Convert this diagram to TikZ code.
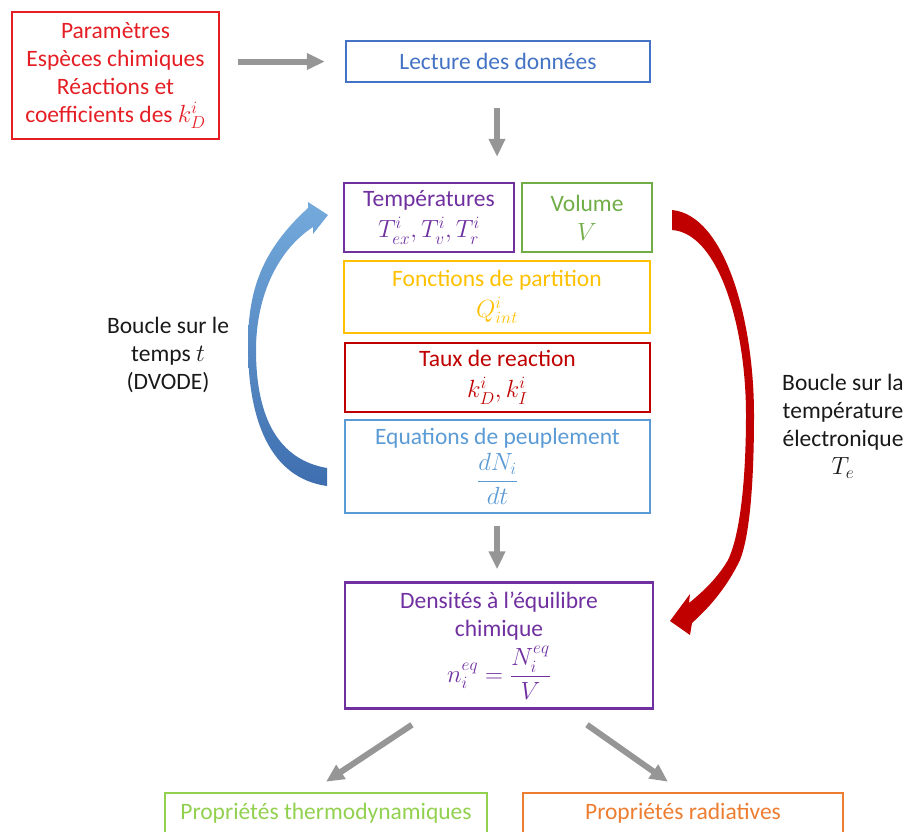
\documentclass[tikz,border=0pt]{standalone}
\usepackage{amsmath}
\usepackage{fontspec}
\setmainfont{Carlito}
\usetikzlibrary{arrows.meta}
\definecolor{paramred}{RGB}{228,30,36}
\definecolor{readblue}{RGB}{68,114,196}
\definecolor{tpurple}{RGB}{112,48,160}
\definecolor{volgreen}{RGB}{112,173,71}
\definecolor{partyellow}{RGB}{255,192,0}
\definecolor{ratered}{RGB}{192,0,0}
\definecolor{popblue}{RGB}{91,155,213}
\definecolor{thermgreen}{RGB}{146,208,80}
\definecolor{radorange}{RGB}{237,125,49}
\definecolor{arrowgray}{RGB}{150,150,150}
\definecolor{labelgray}{RGB}{25,25,25}

\begin{document}
\begin{tikzpicture}[x=1pt, y=-1pt, font=\fontsize{23.5}{28}\selectfont,
  box/.style={draw, line width=2.5pt, inner sep=0pt, align=center},
  grayarrow/.style={color=arrowgray, line width=6pt, -{Triangle[length=18pt,width=16pt]}}]
\useasboundingbox (0,0) rectangle (908,831);
\node[box, paramred, minimum width=207pt, minimum height=127pt] (param) at (115.5,75.5) {Paramètres\\Espèces chimiques\\Réactions et\\coefficients des $k_D^i$};
\node[box, readblue, minimum width=304pt, minimum height=41pt] (lecture) at (498,61.5) {Lecture des données};
\node[box, tpurple, minimum width=170pt, minimum height=69pt] (temps) at (429,217.5) {Températures\\[3pt]$T_{ex}^i, T_v^i, T_r^i$};
\node[box, volgreen, minimum width=130pt, minimum height=69pt] (volume) at (587,217.5) {Volume\\[1pt]$V$};
\node[box, partyellow, minimum width=306pt, minimum height=72pt] (partition) at (497,297) {Fonctions de partition\\[3pt]$Q_{int}^i$};
\node[box, ratered, minimum width=305pt, minimum height=69pt] (taux) at (497.5,377.5) {Taux de reaction\\[3pt]$k_D^i, k_I^i$};
\node[box, popblue, minimum width=305pt, minimum height=93pt] (peuple) at (497.5,466.5) {Equations de peuplement\\[4pt]$\dfrac{dN_i}{dt}$};
\node[box, tpurple, minimum width=308pt, minimum height=126pt] (densites) at (499,645.5) {Densités à l’équilibre\\chimique\\[5pt]$n_i^{eq}=\dfrac{N_i^{eq}}{V}$};
\node[box, thermgreen, minimum width=322pt, minimum height=41pt] (thermo) at (326,813.5) {Propriétés thermodynamiques};
\node[box, radorange, minimum width=320pt, minimum height=41pt] (radiat) at (683,813.5) {Propriétés radiatives};
\node[align=center, text=labelgray] (tloop) at (168,355) {Boucle sur le\\temps $t$\\(DVODE)};
\node[align=center, text=labelgray] (teloop) at (843,426) {Boucle sur la\\température\\électronique\\$T_e$};
\draw[grayarrow, shorten <=18pt, shorten >=20pt] (param.east |- lecture) -- (lecture.west);
\draw[grayarrow, shorten <=25pt, shorten >=25pt] (lecture.south -| 497,0) -- (temps.north -| 497,0);
\draw[grayarrow, shorten <=12pt, shorten >=12pt] (peuple.south -| 497,0) -- (densites.north -| 497,0);
\draw[grayarrow] ([xshift=-87pt,yshift=-15pt]densites.south) -- ([yshift=10pt]thermo.north);
\draw[grayarrow] ([xshift=88pt,yshift=-15pt]densites.south) -- ([xshift=-15pt,yshift=10pt]radiat.north);
\shade[top color=popblue!85!white, bottom color={rgb,255:red,62;green,110;blue,175}]
  (327,486) .. controls (270,478) and (248,420) .. (248,345) .. controls (248,290) and (262,250) .. (308,208)
  -- (308,202) -- (328,215) -- (313,234) -- (313,227)
  .. controls (275,252) and (256,300) .. (256,350) .. controls (256,420) and (280,460) .. (327,468) -- cycle;
\fill[ratered]
  (672,210) .. controls (725,215) and (754,320) .. (754,415) .. controls (754,480) and (750,535) .. (740,560)
  .. controls (728,585) and (712,605) .. (692,623) -- (690,635) -- (670,621) -- (690,594) -- (689,603)
  .. controls (705,590) and (718,577) .. (728,560) .. controls (740,535) and (746,480) .. (746,415)
  .. controls (746,325) and (718,233) .. (672,230) -- cycle;
\end{tikzpicture}
\end{document}
